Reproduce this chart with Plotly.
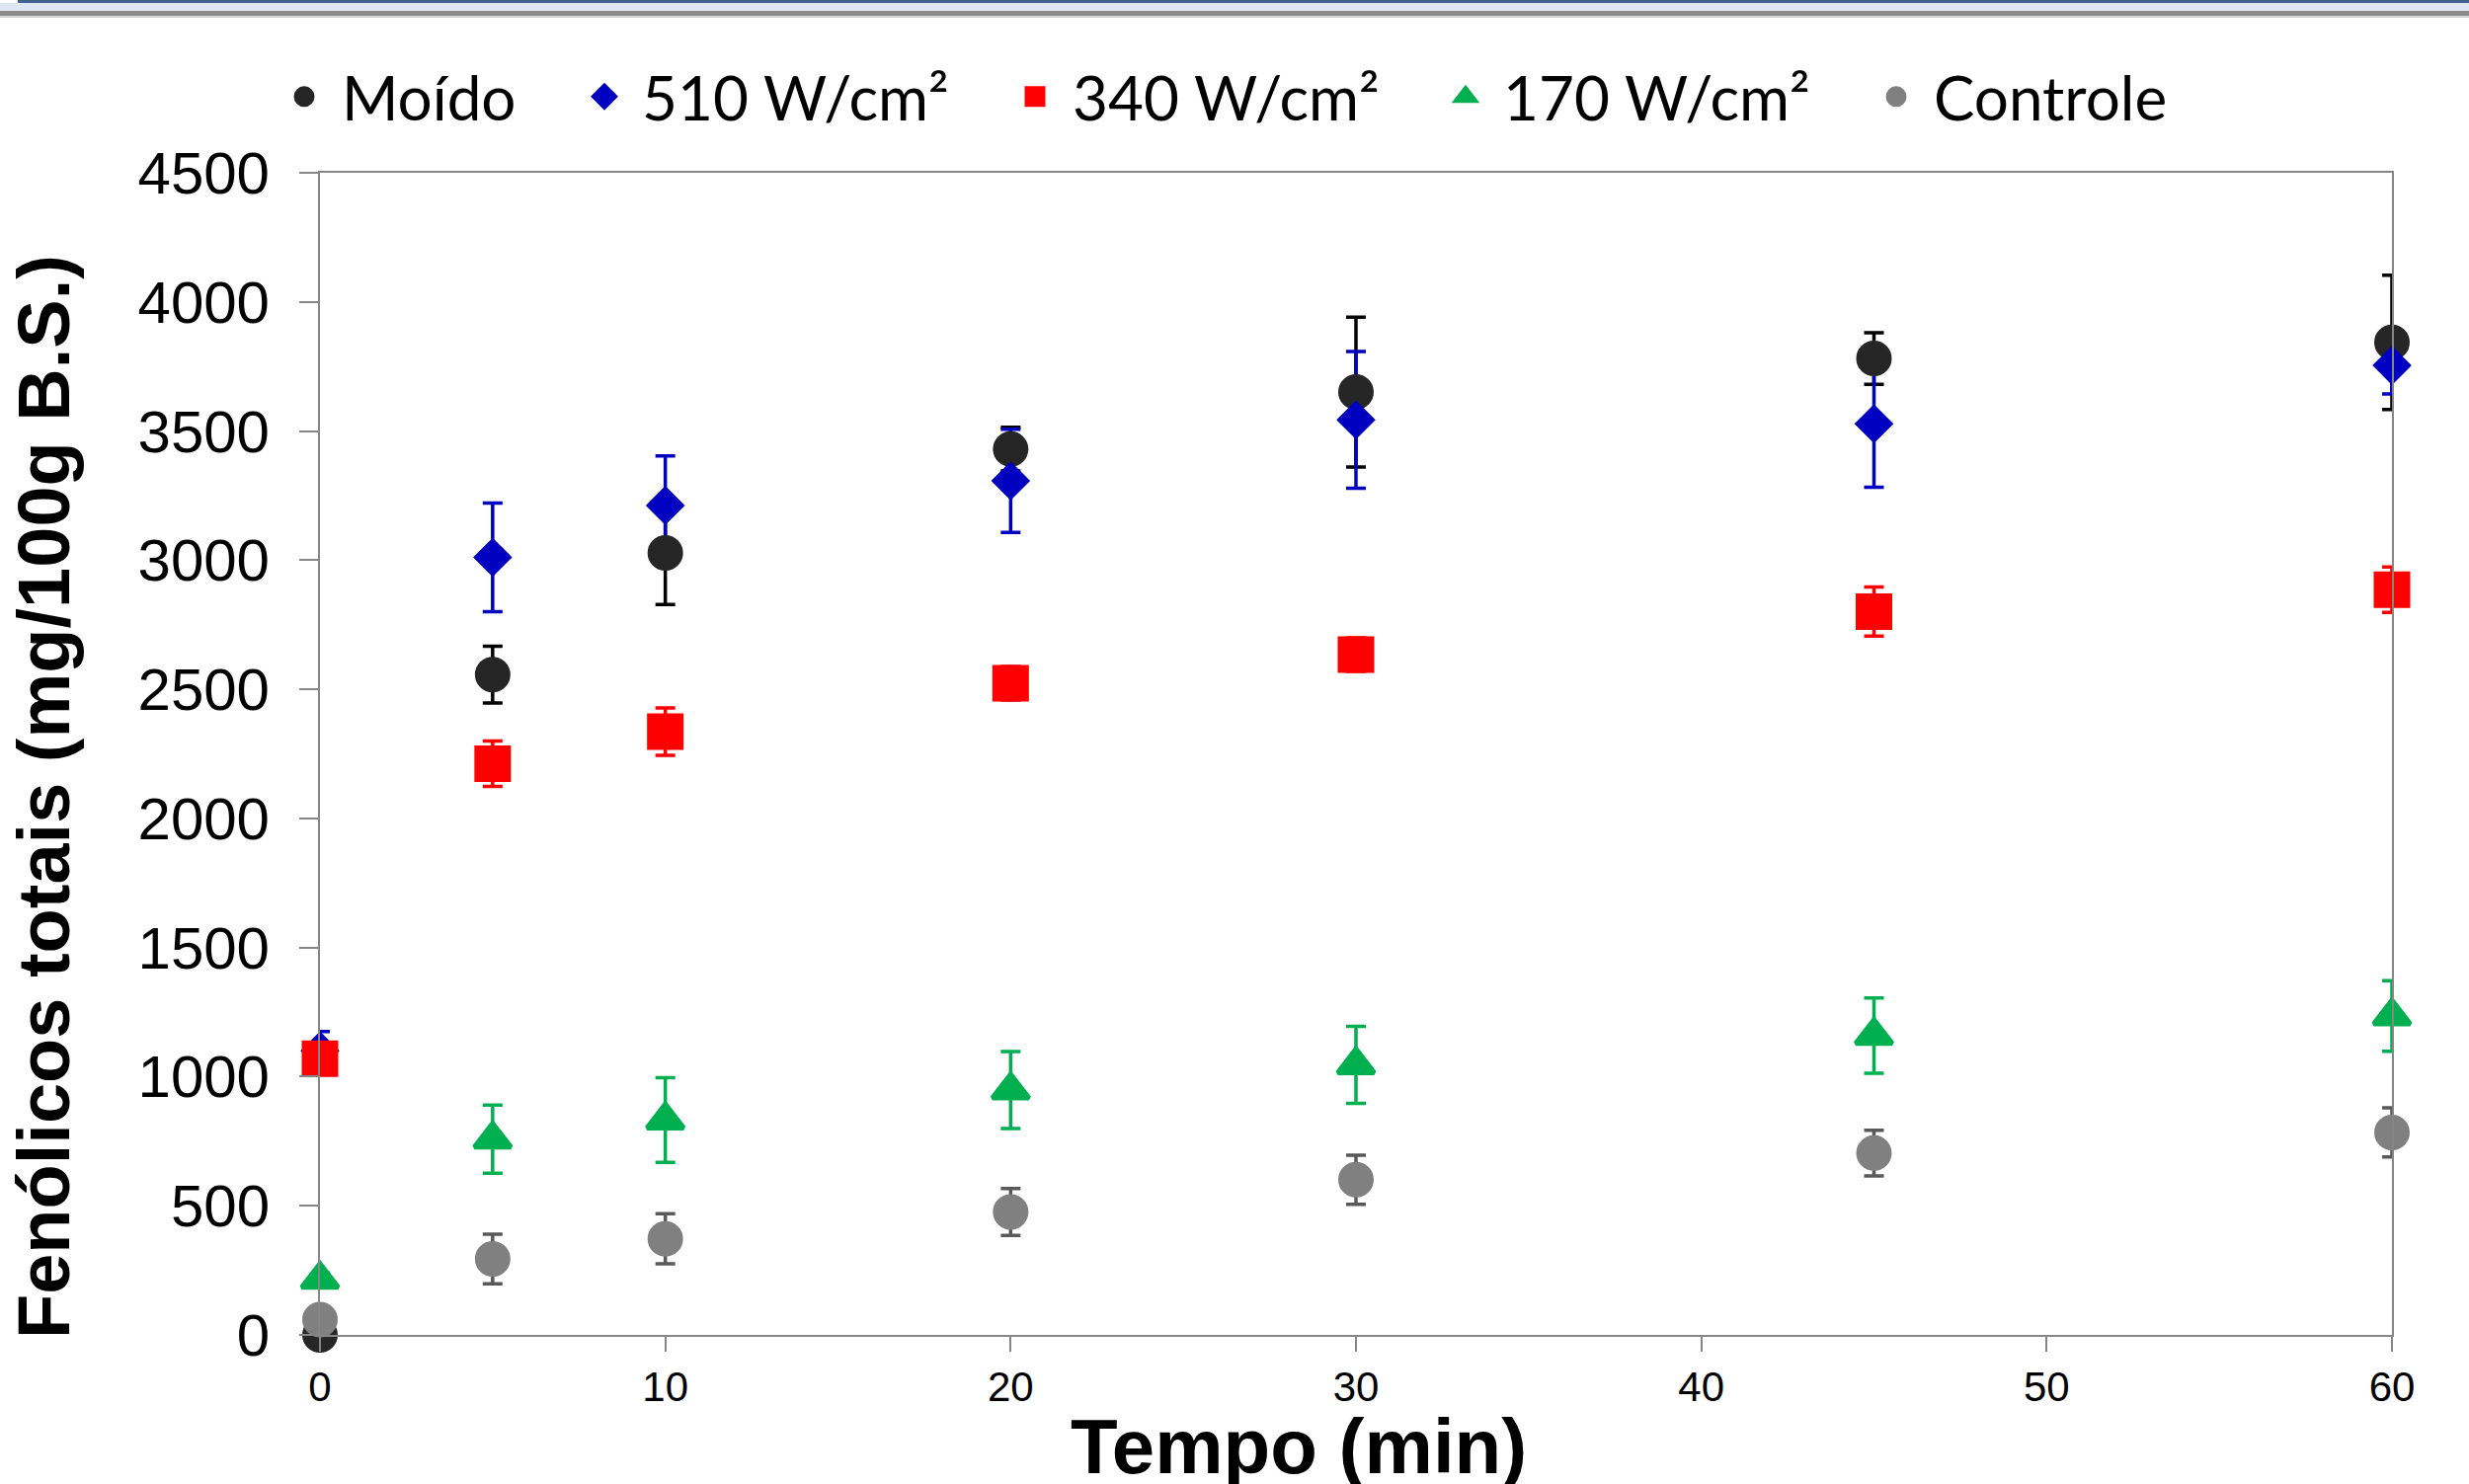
import plotly.graph_objects as go

# ---------------- data ----------------
tempo = [0, 5, 10, 20, 30, 45, 60]
series_names = ["Moído", "510 W/cm²", "340 W/cm²", "170 W/cm²", "Controle"]

moido = [0, 2557, 3028, 3430, 3651, 3781, 3843]
moido_err = [0, 110, 200, 85, 290, 100, 260]

w510 = [1100, 3011, 3212, 3307, 3543, 3528, 3754]
w510_err = [75, 210, 192, 200, 265, 246, 110]

w340 = [1070, 2212, 2336, 2523, 2634, 2801, 2886]
w340_err = [30, 88, 92, 65, 65, 95, 88]

w170 = [215, 758, 832, 948, 1046, 1159, 1235]
w170_err = [25, 132, 164, 149, 149, 146, 137]

controle = [59, 294, 372, 476, 601, 704, 784]
controle_err = [20, 96, 97, 91, 95, 88, 95]

x_ticks = [0, 10, 20, 30, 40, 50, 60]
y_ticks = [0, 500, 1000, 1500, 2000, 2500, 3000, 3500, 4000, 4500]

x_title = "Tempo (min)"
y_title = "Fenólicos totais (mg/100g B.S.)"

# ---------------- styles ----------------
W, H = 2500, 1503
L, R, T, B = 324, 2422, 175, 1352          # plot area in pixels
PW, PH = R - L, B - T

values = [moido, w510, w340, w170, controle]
errors = [moido_err, w510_err, w340_err, w170_err, controle_err]
marker_colors = ["#262626", "#0000c0", "#ff0000", "#00b050", "#808080"]
err_colors = ["#000000", "#0000c0", "#ff0000", "#00b050", "#595959"]
symbols = ["circle", "diamond", "square", "triangle-up", "circle"]
sizes = [31, 25, 32, 32, 31]
legends = ["legend", "legend2", "legend2", "legend2", "legend2"]

AXIS_FONT = "Liberation Sans, Arial, sans-serif"
LEGEND_FONT = "Lato, Carlito, Calibri, sans-serif"
AXIS_GRAY = "#868686"

fig = go.Figure()

# error bars first (Excel draws all error bars beneath the markers)
for vals, errs, ec in zip(values, errors, err_colors):
    fig.add_trace(go.Scatter(
        x=tempo, y=vals, mode="markers",
        marker=dict(size=2, opacity=0),
        error_y=dict(type="data", array=errs, visible=True, color=ec,
                     thickness=3.5, width=10),
        showlegend=False, hoverinfo="skip", cliponaxis=False,
    ))

# markers, in series order
for name, vals, mc, sym, sz, lg in zip(series_names, values, marker_colors,
                                       symbols, sizes, legends):
    fig.add_trace(go.Scatter(
        x=tempo, y=vals, mode="markers", name=name,
        marker=dict(symbol=sym, size=sz, color=mc,
                    line=dict(color=mc, width=5)),
        cliponaxis=False, legend=lg,
    ))


def px_x(px):
    return (px - L) / PW


def px_y(py):
    return (B - py) / PH


axis_common = dict(
    showline=True, linecolor=AXIS_GRAY, linewidth=2, mirror=True,
    showgrid=False, zeroline=False, ticks="outside", tickwidth=2,
    tickcolor=AXIS_GRAY,
)

fig.update_layout(
    width=W, height=H,
    margin=dict(l=L, r=W - R, t=T, b=H - B, pad=0, autoexpand=False),
    paper_bgcolor="white", plot_bgcolor="white",
    xaxis=dict(range=[0, 60], tickmode="array", tickvals=x_ticks,
               ticklen=15, ticklabelstandoff=0,
               tickfont=dict(family=AXIS_FONT, size=42, color="black"),
               **axis_common),
    yaxis=dict(range=[0, 4500], tickmode="array", tickvals=y_ticks,
               ticklen=19, ticklabelstandoff=18,
               tickfont=dict(family=AXIS_FONT, size=60, color="black"),
               **axis_common),
    legend=dict(orientation="h", xref="container", yref="container",
                x=270 / W, y=1 - 98 / H, xanchor="left", yanchor="middle",
                font=dict(family=LEGEND_FONT, size=62, color="black"),
                itemwidth=66, bgcolor="rgba(0,0,0,0)", borderwidth=0),
    legend2=dict(orientation="h", xref="container", yref="container",
                 x=574 / W, y=1 - 98 / H, xanchor="left", yanchor="middle",
                 font=dict(family=LEGEND_FONT, size=62, color="black"),
                 itemwidth=66, entrywidth=355, entrywidthmode="pixels",
                 bgcolor="rgba(0,0,0,0)", borderwidth=0),
    showlegend=True,
    annotations=[
        dict(text=y_title, xref="paper", yref="paper",
             x=px_x(44), y=px_y(807), xanchor="center", yanchor="middle",
             textangle=-90, showarrow=False,
             font=dict(family=AXIS_FONT, size=74, color="black",
                       weight="bold")),
        dict(text=x_title, xref="paper", yref="paper",
             x=px_x(1315), y=px_y(1465), xanchor="center", yanchor="middle",
             showarrow=False, borderpad=0,
             font=dict(family=AXIS_FONT, size=78, color="black",
                       weight="bold")),
    ],
    shapes=[
        dict(type="rect", xref="paper", yref="paper", layer="above",
             x0=px_x(0), x1=px_x(W), y0=px_y(11), y1=px_y(3),
             fillcolor="#dee6f1", line=dict(width=0)),
        dict(type="rect", xref="paper", yref="paper", layer="above",
             x0=px_x(18), x1=px_x(W), y0=px_y(3), y1=px_y(0),
             fillcolor="#40608f", line=dict(width=0)),
        dict(type="rect", xref="paper", yref="paper", layer="above",
             x0=px_x(0), x1=px_x(W), y0=px_y(16), y1=px_y(11),
             fillcolor="#8a8a8a", line=dict(width=0)),
        dict(type="rect", xref="paper", yref="paper", layer="above",
             x0=px_x(0), x1=px_x(W), y0=px_y(18), y1=px_y(16),
             fillcolor="#d4d4d4", line=dict(width=0)),
    ],
)

fig.write_html(
    "out.html",
    config={"displayModeBar": False},
    post_script="document.body.style.margin='0px';"
                "document.body.style.overflow='hidden';",
)
